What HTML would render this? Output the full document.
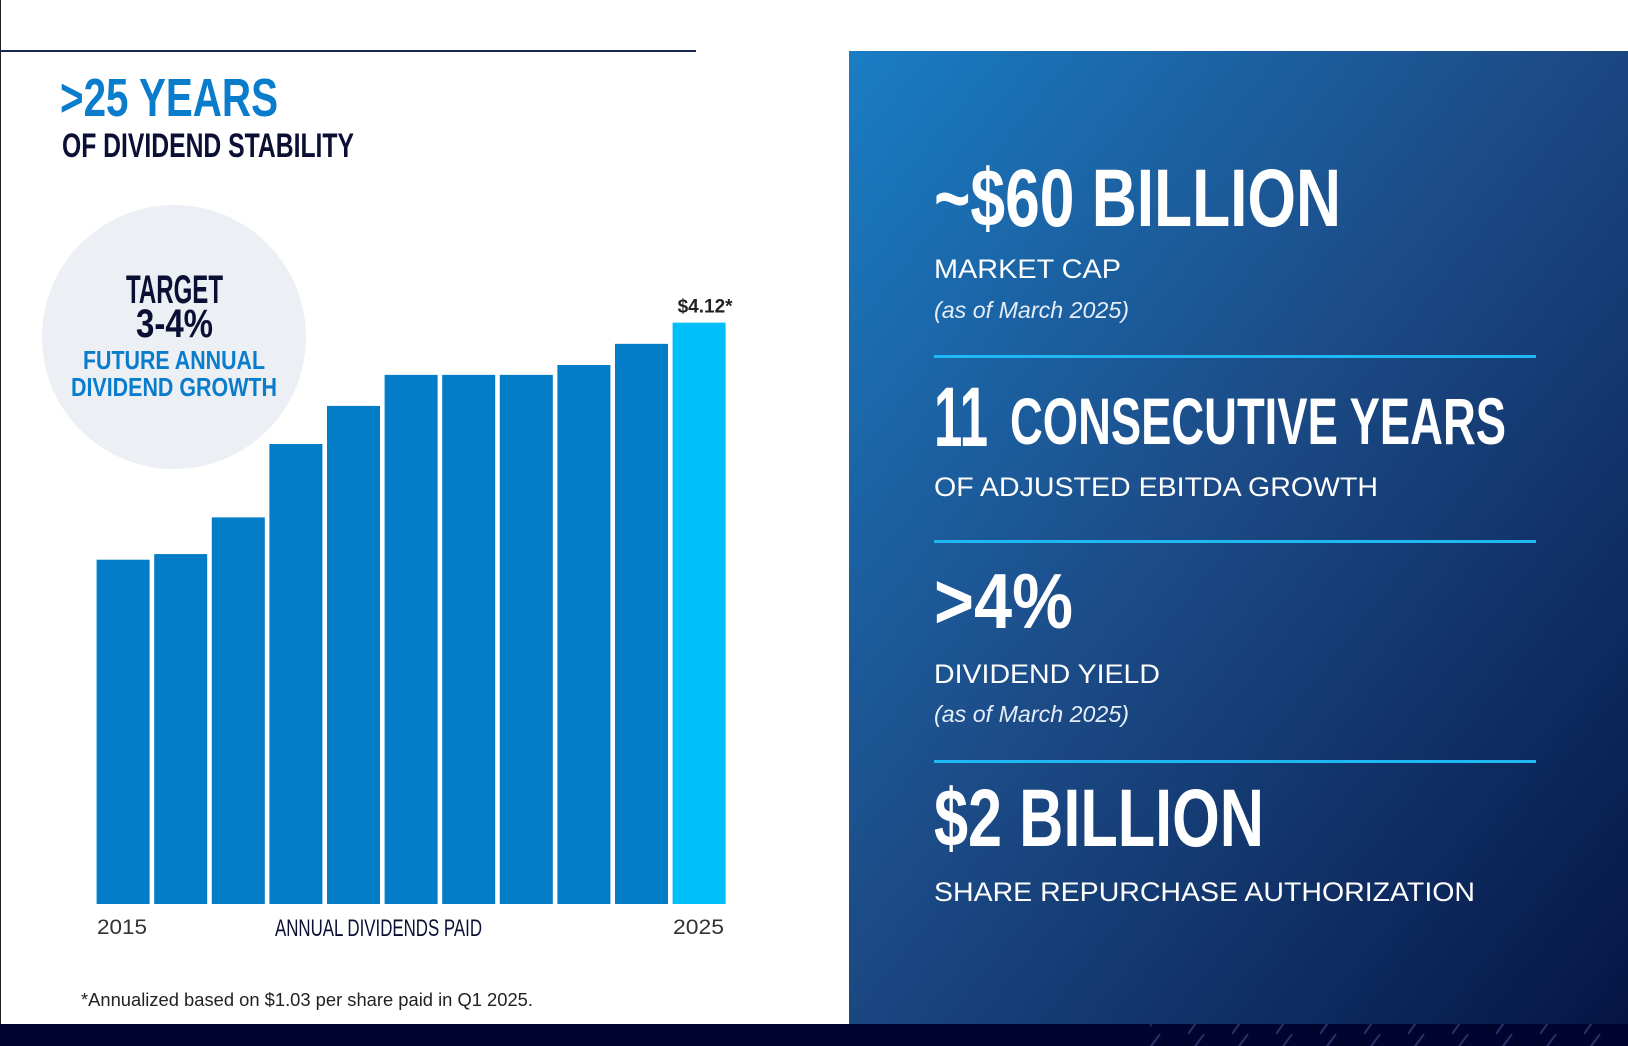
<!DOCTYPE html>
<html><head><meta charset="utf-8">
<style>
html,body{margin:0;padding:0;background:#fff;}
svg{display:block;}
.cond{font-family:"Liberation Sans",sans-serif;font-weight:bold;}
.reg{font-family:"Liberation Sans",sans-serif;}
</style></head>
<body>
<svg id="chart" width="1628" height="1046" viewBox="0 0 1628 1046" xmlns="http://www.w3.org/2000/svg">
<defs>
<linearGradient id="pg" x1="0" y1="0" x2="1" y2="1">
<stop offset="0" stop-color="#1a7dc4"/>
<stop offset="0.45" stop-color="#1c4c88"/>
<stop offset="1" stop-color="#051545"/>
</linearGradient>
<pattern id="stripes" width="44" height="22" patternUnits="userSpaceOnUse">
<line x1="0" y1="22" x2="16" y2="0" stroke="#2a2f66" stroke-width="2"/>
</pattern>
</defs>
<rect x="0" y="0" width="1" height="1024" fill="#222"/>
<rect x="0" y="50" width="696" height="2" fill="#1b2a55"/>
<rect x="849" y="51" width="779" height="973" fill="url(#pg)"/>
<rect x="0" y="1024" width="1628" height="22" fill="#000530"/>
<rect x="1150" y="1024" width="478" height="22" fill="url(#stripes)"/>

<text class="cond" x="60" y="116" font-size="54" fill="#0a7ccc" textLength="218" lengthAdjust="spacingAndGlyphs">&gt;25 YEARS</text>
<text class="cond" x="62" y="157" font-size="34" fill="#0b0f33" textLength="292" lengthAdjust="spacingAndGlyphs">OF DIVIDEND STABILITY</text>

<circle cx="174" cy="337" r="132" fill="#eceff3"/>
<text class="cond" x="126" y="303" font-size="40" fill="#0b0f33" textLength="97" lengthAdjust="spacingAndGlyphs">TARGET</text>
<text class="cond" x="136" y="337" font-size="40" fill="#0b0f33" textLength="77" lengthAdjust="spacingAndGlyphs">3-4%</text>
<text class="cond" x="83" y="369" font-size="26" fill="#0a7ccc" textLength="182" lengthAdjust="spacingAndGlyphs">FUTURE ANNUAL</text>
<text class="cond" x="71" y="396" font-size="26" fill="#0a7ccc" textLength="206" lengthAdjust="spacingAndGlyphs">DIVIDEND GROWTH</text>

<g id="bars"></g>

<text class="reg" x="97" y="934" font-size="21" fill="#333" textLength="50" lengthAdjust="spacingAndGlyphs">2015</text>
<text class="reg" x="275" y="936" font-size="24" fill="#0b0f33" textLength="207" lengthAdjust="spacingAndGlyphs">ANNUAL DIVIDENDS PAID</text>
<text class="reg" x="673" y="934" font-size="21" fill="#333" textLength="51" lengthAdjust="spacingAndGlyphs">2025</text>
<text class="reg" x="81" y="1006" font-size="18" fill="#222" textLength="452" lengthAdjust="spacingAndGlyphs">*Annualized based on $1.03 per share paid in Q1 2025.</text>

<text class="cond" x="934" y="226" font-size="82" fill="#fff" textLength="407" lengthAdjust="spacingAndGlyphs">~$60 BILLION</text>
<text class="reg" x="934" y="278" font-size="27" fill="#fff" textLength="187" lengthAdjust="spacingAndGlyphs">MARKET CAP</text>
<text class="reg" x="934" y="318" font-size="23" font-style="italic" fill="#e6eef8" textLength="195" lengthAdjust="spacingAndGlyphs">(as of March 2025)</text>
<rect x="934" y="355" width="602" height="3" fill="#1fb8f2"/>

<text class="cond" x="934" y="446" font-size="84" fill="#fff" textLength="54" lengthAdjust="spacingAndGlyphs">11</text>
<text class="cond" x="1010" y="444" font-size="66" fill="#fff" textLength="496" lengthAdjust="spacingAndGlyphs">CONSECUTIVE YEARS</text>
<text class="reg" x="934" y="496" font-size="27" fill="#fff" textLength="444" lengthAdjust="spacingAndGlyphs">OF ADJUSTED EBITDA GROWTH</text>
<rect x="934" y="540" width="602" height="3" fill="#1fb8f2"/>

<text class="cond" x="934" y="628" font-size="78" fill="#fff" textLength="139" lengthAdjust="spacingAndGlyphs">&gt;4%</text>
<text class="reg" x="934" y="683" font-size="27" fill="#fff" textLength="226" lengthAdjust="spacingAndGlyphs">DIVIDEND YIELD</text>
<text class="reg" x="934" y="722" font-size="23" font-style="italic" fill="#e6eef8" textLength="195" lengthAdjust="spacingAndGlyphs">(as of March 2025)</text>
<rect x="934" y="760" width="602" height="3" fill="#1fb8f2"/>

<text class="cond" x="934" y="846" font-size="82" fill="#fff" textLength="330" lengthAdjust="spacingAndGlyphs">$2 BILLION</text>
<text class="reg" x="934" y="901" font-size="27" fill="#fff" textLength="541" lengthAdjust="spacingAndGlyphs">SHARE REPURCHASE AUTHORIZATION</text>
</svg>
<script>
const years = [2015,2016,2017,2018,2019,2020,2021,2022,2023,2024,2025];
const dividends = [2.44,2.48,2.74,3.26,3.53,3.75,3.75,3.75,3.82,3.97,4.12];
const lastLabel = "$4.12*";

const NS = "http://www.w3.org/2000/svg";
const baseY = 904, pxPerDollar = 141.1, x0 = 96.6, step = 57.6, bw = 53;
function xPos(i){ return x0 + i*step; }
function yPos(v){ return baseY - v*pxPerDollar; }
const g = document.getElementById('bars');
dividends.forEach((v,i)=>{
  const r = document.createElementNS(NS,'rect');
  r.setAttribute('x', xPos(i));
  r.setAttribute('y', yPos(v));
  r.setAttribute('width', bw);
  r.setAttribute('height', baseY - yPos(v));
  r.setAttribute('fill', i === dividends.length-1 ? '#00c0fa' : '#047dc9');
  
  
  g.appendChild(r);
});
const li = dividends.length-1;
const t = document.createElementNS(NS,'text');
t.setAttribute('x', xPos(li) + bw/2 + 6);
t.setAttribute('y', yPos(dividends[li]) - 10);
t.setAttribute('text-anchor','middle');
t.setAttribute('font-family','Liberation Sans, sans-serif');
t.setAttribute('font-weight','bold');
t.setAttribute('font-size','19');
t.setAttribute('fill','#222');
t.textContent = lastLabel;


g.appendChild(t);
</script>
</body></html>
